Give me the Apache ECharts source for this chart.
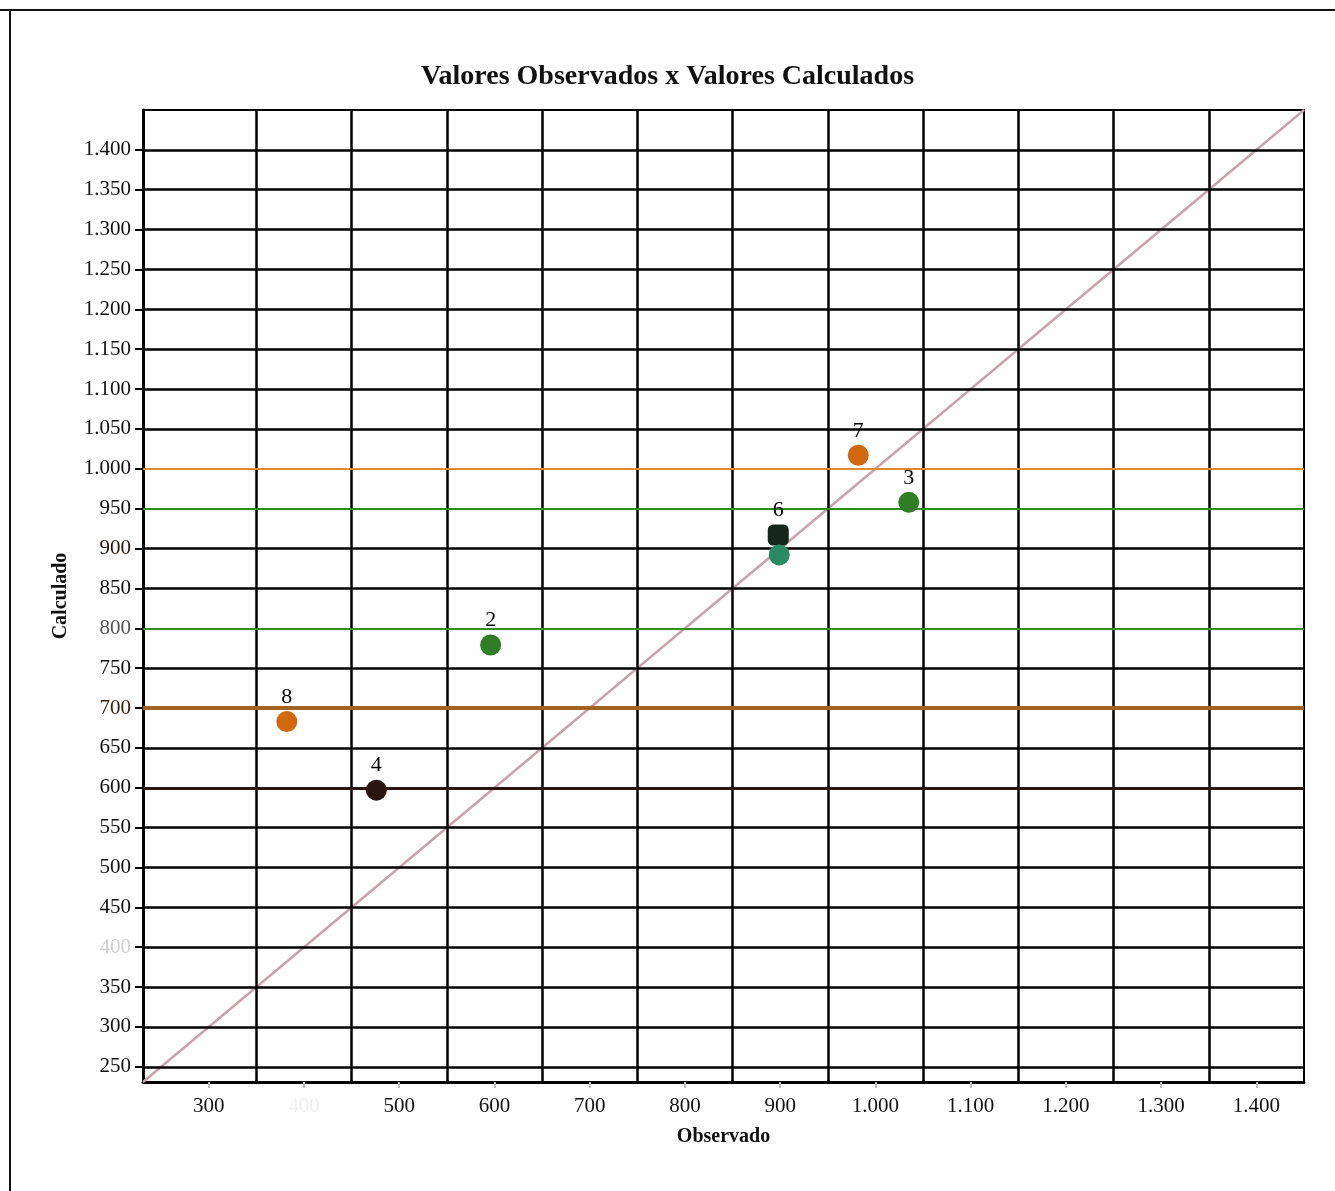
<!DOCTYPE html>
<html>
<head>
<meta charset="utf-8">
<script src="https://cdn.jsdelivr.net/npm/echarts@6/dist/echarts.min.js"></script>
<style>
  * { margin: 0; padding: 0; }
  body { background: #fff; }
  #chart-container { position: relative; width: 1335px; height: 1191px; }
  .frame { position: absolute; background: #111; z-index: 5; }
</style>
</head>
<body>
<div id="chart-container"></div>
<div class="frame" style="left:0;top:9px;width:1335px;height:2px;"></div>
<div class="frame" style="left:9px;top:9px;width:2px;height:1182px;"></div>
<script>
  // axis extents and ticks
  var axisMin = 231
  var axisMax = 1450
  var xTickValues = [300, 400, 500, 600, 700, 800, 900, 1000, 1100, 1200, 1300, 1400]
  var yTickValues = [250, 300, 350, 400, 450, 500, 550, 600, 650, 700, 750, 800, 850, 900, 950, 1000, 1050, 1100, 1150, 1200, 1250, 1300, 1350, 1400]
  var vGridValues = [350, 450, 550, 650, 750, 850, 950, 1050, 1150, 1250, 1350]

  // coloured reference lines
  var refLineValues = [600, 700, 800, 950, 1000]

  // points
  var pointLabels = ['8', '4', '2', '6', '', '7', '3']
  var observado = [382, 476, 596, 898, 899, 982, 1035]
  var calculado = [683, 597, 779, 917, 892, 1017, 958]

  var pointColors = ['#d2690f', '#2b1510', '#2f7d24', '#15261c', '#2a8a66', '#d2690f', '#2f7d24']
  var pointSymbols = ['circle', 'circle', 'circle', 'roundRect', 'circle', 'circle', 'circle']
  var refLineStyles = {
    600: { color: '#2b1510', width: 3 },
    700: { color: '#a3621f', width: 4 },
    800: { color: '#3a8a2c', width: 2 },
    950: { color: '#2f8a24', width: 2 },
    1000: { color: '#e08a30', width: 2 },
  }
  var labelColors = { 400: '#cfcfcf', 700: '#3a1c10', 800: '#555', 900: '#2b1510' }

  var fontFamily = "'Liberation Serif', 'DejaVu Serif', serif"

  function fmt(v) {
    v = Number(v)
    if (v >= 1000) return Math.floor(v / 1000) + '.' + String(v % 1000).padStart(3, '0')
    return String(v)
  }

  var chartDom = document.getElementById('chart-container')
  var myChart = echarts.init(chartDom, null, { renderer: 'canvas' })

  var gridLines = []
  yTickValues.forEach(function (v) {
    if (refLineValues.indexOf(v) >= 0) return
    gridLines.push({ yAxis: v, lineStyle: { color: '#000', width: 2.5, type: 'solid' } })
  })
  vGridValues.forEach(function (v) {
    gridLines.push({ xAxis: v, lineStyle: { color: '#000', width: 2.5, type: 'solid' } })
  })
  refLineValues.forEach(function (v) {
    var s = refLineStyles[v]
    gridLines.push({ yAxis: v, lineStyle: { color: s.color, width: s.width, type: 'solid' } })
  })

  var points = observado.map(function (x, i) {
    return {
      value: [x, calculado[i]],
      symbol: pointSymbols[i],
      itemStyle: { color: pointColors[i], opacity: 1 },
      label: { show: pointLabels[i] !== '', formatter: pointLabels[i] },
    }
  })

  var option = {
    animation: false,
    title: {
      text: 'Valores Observados x Valores Calculados',
      left: 'center',
      top: 58,
      textStyle: { fontFamily: fontFamily, fontSize: 28, fontWeight: 'bold', color: '#111' },
    },
    grid: {
      left: 143,
      right: 31,
      top: 110,
      bottom: 109,
      show: true,
      borderColor: '#000',
      borderWidth: 2,
    },
    xAxis: {
      type: 'value',
      min: axisMin,
      max: axisMax,
      name: 'Observado',
      nameLocation: 'middle',
      nameGap: 45,
      nameTextStyle: { fontFamily: fontFamily, fontSize: 20, fontWeight: 'bold', color: '#111' },
      axisLine: { show: true, lineStyle: { color: '#000', width: 3 } },
      axisTick: { show: true, customValues: xTickValues, length: 6, lineStyle: { color: '#bbb', width: 2 } },
      axisLabel: {
        customValues: xTickValues,
        formatter: fmt,
        margin: 14,
        fontFamily: fontFamily,
        fontSize: 21,
        color: function (v) { return Number(v) === 400 ? '#f0f0f0' : '#111' },
      },
      splitLine: { show: false },
    },
    yAxis: {
      type: 'value',
      min: axisMin,
      max: axisMax,
      name: 'Calculado',
      nameLocation: 'middle',
      nameGap: 72,
      nameTextStyle: { fontFamily: fontFamily, fontSize: 20, fontWeight: 'bold', color: '#111' },
      axisLine: { show: true, lineStyle: { color: '#000', width: 3 } },
      axisTick: { show: true, customValues: yTickValues, length: 8, lineStyle: { color: '#000', width: 2 } },
      axisLabel: {
        customValues: yTickValues,
        formatter: fmt,
        margin: 12,
        fontFamily: fontFamily,
        fontSize: 21,
        color: function (v) { return labelColors[Number(v)] || '#111' },
      },
      splitLine: { show: false },
    },
    series: [
      {
        name: 'grade',
        type: 'scatter',
        data: [],
        silent: true,
        markLine: {
          silent: true,
          symbol: 'none',
          label: { show: false },
          animation: false,
          data: gridLines,
        },
      },
      {
        name: 'diagonal',
        type: 'line',
        data: [[axisMin, axisMin], [axisMax, axisMax]],
        showSymbol: false,
        silent: true,
        lineStyle: { color: '#c7a3ab', width: 2.5 },
        z: 3,
      },
      {
        name: 'pontos',
        type: 'scatter',
        symbolSize: 21,
        data: points,
        z: 5,
        label: {
          show: true,
          position: 'top',
          distance: 3,
          fontFamily: fontFamily,
          fontSize: 22,
          color: '#000',
        },
      },
    ],
  }

  myChart.setOption(option)
  window.addEventListener('resize', myChart.resize)
</script>
</body>
</html>
